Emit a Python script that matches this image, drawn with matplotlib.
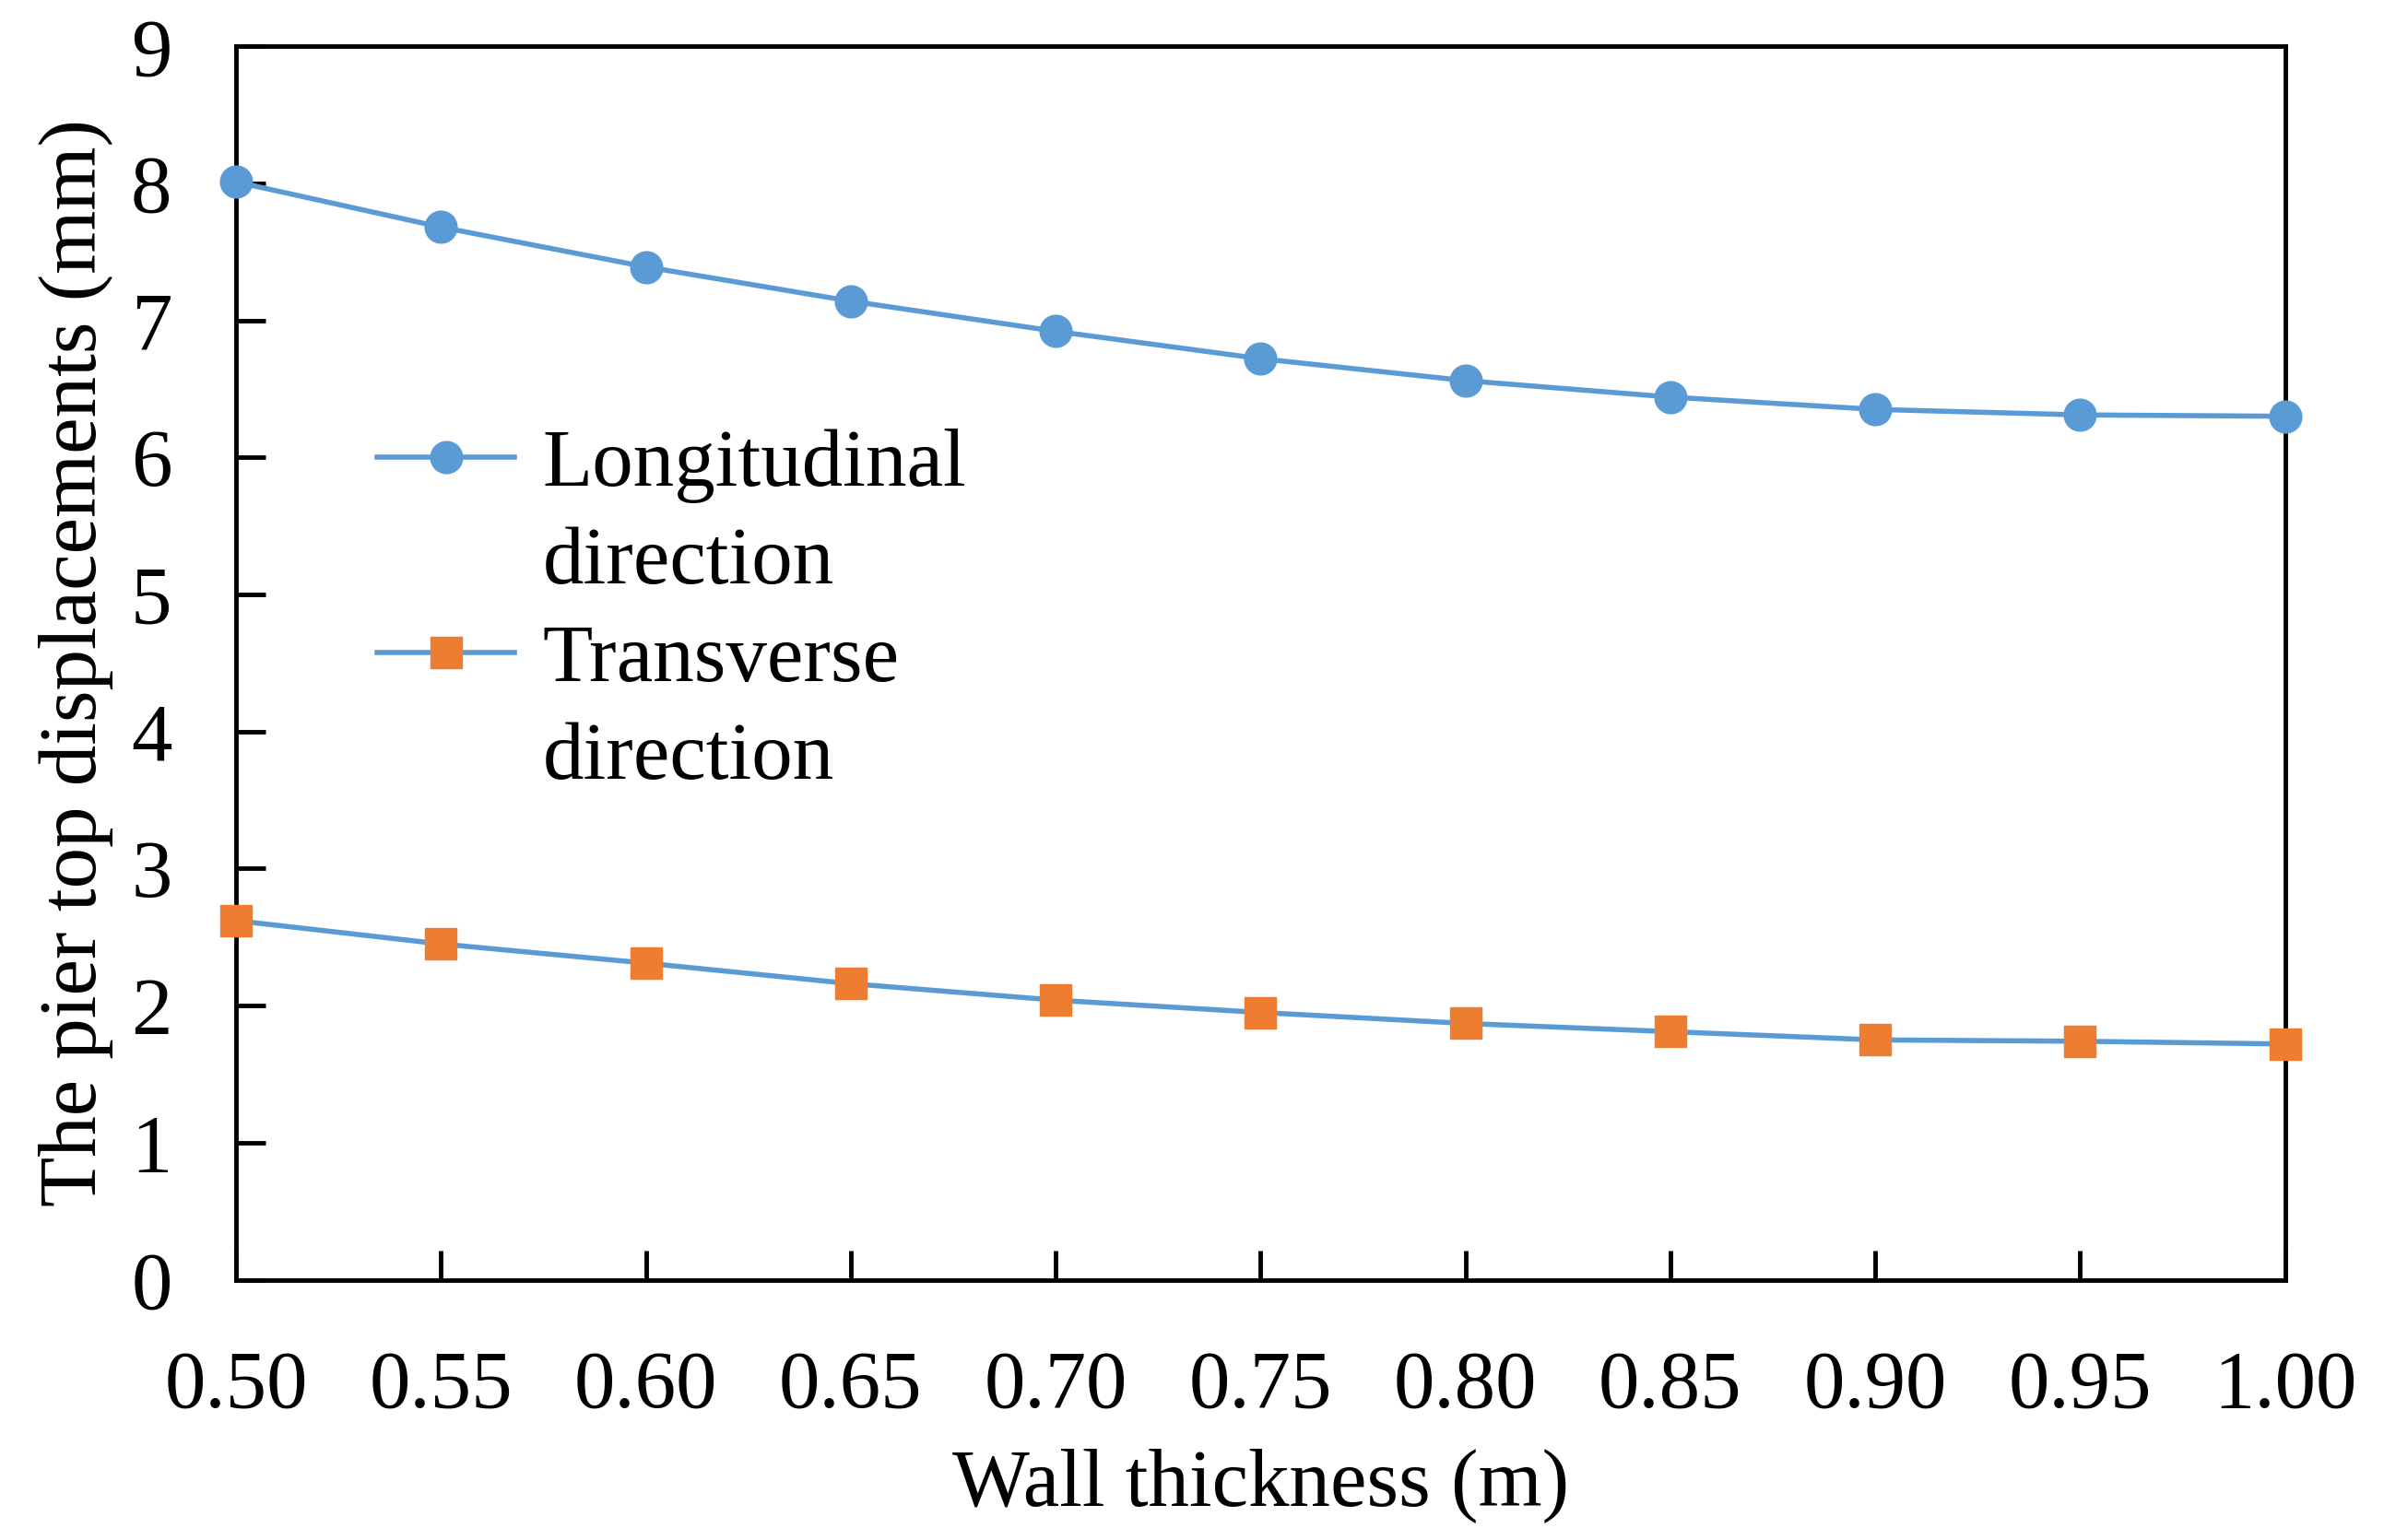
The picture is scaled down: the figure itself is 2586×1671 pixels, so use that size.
import numpy as np
import matplotlib
matplotlib.use('Agg')
import matplotlib.pyplot as plt
from matplotlib.lines import Line2D

plt.rcParams['font.family'] = ['Liberation Serif', 'DejaVu Serif']

thickness = [0.50, 0.55, 0.60, 0.65, 0.70, 0.75, 0.80, 0.85, 0.90, 0.95, 1.00]
longitudinal = [8.01, 7.68, 7.39, 7.14, 6.92, 6.72, 6.56, 6.44, 6.35, 6.31, 6.30]
transverse = [2.62, 2.45, 2.31, 2.16, 2.04, 1.95, 1.87, 1.81, 1.75, 1.74, 1.72]
xticks = [0.50, 0.55, 0.60, 0.65, 0.70, 0.75, 0.80, 0.85, 0.90, 0.95, 1.00]
yticks = [0, 1, 2, 3, 4, 5, 6, 7, 8, 9]

blue = '#5B9BD5'
orange = '#ED7D31'
fs = 64

fig = plt.figure(figsize=(25.86, 16.71), dpi=100)
ax = fig.add_axes([0.099, 0.169, 0.8595, 0.801])

l1, = ax.plot(thickness, longitudinal, color=blue, lw=4, marker='o', ms=25,
              mfc=blue, mec=blue, clip_on=False, zorder=3)
l2, = ax.plot(thickness, transverse, color=blue, lw=4, marker='s', ms=24,
              mfc=orange, mec=orange, clip_on=False, zorder=3)

ax.set_xlim(0.5, 1.0)
ax.set_ylim(0, 9)
ax.set_xticks(xticks)
ax.set_xticklabels(['%.2f' % v for v in xticks])
ax.set_yticks(yticks)
ax.tick_params(direction='in', length=23, width=3.5, labelsize=fs)
ax.tick_params(axis='x', pad=55)
ax.tick_params(axis='y', pad=50)
for s in ax.spines.values():
    s.set_linewidth(3.5)

ax.set_xlabel('Wall thickness (m)', fontsize=fs, labelpad=18)
ax.set_ylabel('The pier top displacements (mm)', fontsize=fs, labelpad=14)

# label second lines as extra legend rows with blank handles
blank = Line2D([], [], linestyle='none', marker='none')
ax.legend([l1, blank, l2, blank],
          ['Longitudinal', 'direction', 'Transverse', 'direction'],
          loc='upper left', bbox_to_anchor=(0.033, 0.75), frameon=False,
          fontsize=fs, handlelength=1.67, handletextpad=0.35,
          labelspacing=0.28)

fig.savefig('out.png', dpi=100)
